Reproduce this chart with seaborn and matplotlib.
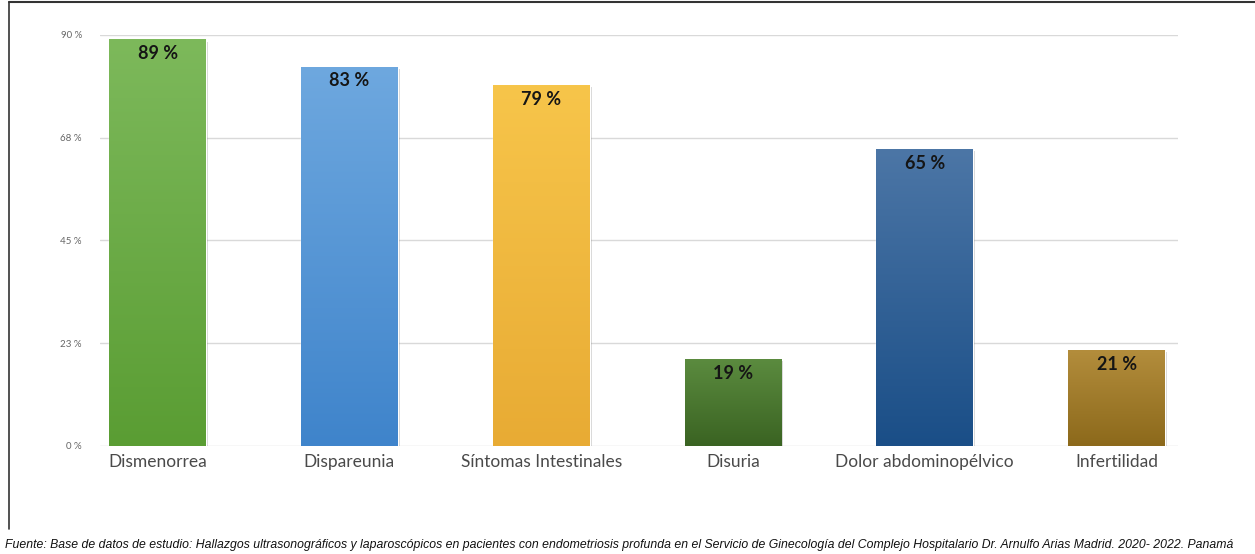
import matplotlib
matplotlib.use("Agg")
import matplotlib.pyplot as plt
import matplotlib.colors as mcolors
from matplotlib import patheffects
import numpy as np
import pandas as pd
import seaborn as sns

# data
categorias = ["Dismenorrea", "Dispareunia", "Síntomas Intestinales",
              "Disuria", "Dolor abdominopélvico", "Infertilidad"]
porcentajes = [89, 83, 79, 19, 65, 21]
etiquetas = ["89 %", "83 %", "79 %", "19 %", "65 %", "21 %"]
ticks_y = [0, 22.5, 45, 67.5, 90]
ticks_y_txt = ["0 %", "23 %", "45 %", "68 %", "90 %"]
fuente = ("Fuente: Base de datos de estudio: Hallazgos ultrasonográficos y laparoscópicos "
          "en pacientes con endometriosis profunda en el Servicio de Ginecología del Complejo "
          "Hospitalario Dr. Arnulfo Arias Madrid. 2020- 2022. Panamá")

# top / bottom colour of each bar gradient
color_arriba = ["#7db95b", "#6ea8df", "#f7c54a", "#5b8b3f", "#4c76a6", "#b38d3c"]
color_abajo = ["#5a9d33", "#3f84cb", "#e8ab34", "#3a6322", "#1a4e87", "#8c691b"]

df = pd.DataFrame({"categoria": categorias, "valor": porcentajes})

sns.set_style("white")
plt.rcParams["font.family"] = ["Lato", "DejaVu Sans"]

fig = plt.figure(figsize=(12.55, 5.54), dpi=100)
ax = fig.add_axes([0.0797, 0.195, 0.8589, 0.742])

sns.barplot(data=df, x="categoria", y="valor", hue="categoria",
            palette=color_abajo, width=0.505, legend=False, ax=ax, zorder=2)

ax.set_ylim(0, 90)
ax.set_xlim(-0.3, 5.32)

# vertical gradient inside each bar
grad = np.linspace(0, 1, 256).reshape(-1, 1)
for i, bar in enumerate(ax.patches):
    x0, y0 = bar.get_x(), bar.get_y()
    w, h = bar.get_width(), bar.get_height()
    cmap = mcolors.LinearSegmentedColormap.from_list(
        "g%d" % i, [color_abajo[i], color_arriba[i]])
    bar.set_path_effects([patheffects.SimplePatchShadow(offset=(1.5, -1.5),
                                                        shadow_rgbFace="#000000",
                                                        alpha=0.18),
                          patheffects.Normal()])
    im = ax.imshow(grad, cmap=cmap, aspect="auto", origin="lower",
                   extent=(x0, x0 + w, y0, y0 + h), zorder=3)
    im.set_clip_path(bar)
    ax.text(x0 + w / 2, h - 1.2, etiquetas[i], ha="center", va="top",
            fontsize=13, fontweight="bold", color="#151515", zorder=4)

ax.set_yticks(ticks_y)
ax.set_yticklabels(ticks_y_txt, fontsize=7, color="#666666")
ax.tick_params(axis="y", length=0, pad=13)
ax.tick_params(axis="x", length=0, pad=6, labelsize=12.5, labelcolor="#4a4a4a")
ax.grid(axis="y", color="#d9d9d9", linewidth=1, zorder=0)
ax.set_axisbelow(True)
ax.set_xlabel("")
ax.set_ylabel("")
sns.despine(ax=ax, left=True, bottom=True)

# outer frame (left and top edges)
fig.add_artist(plt.Line2D([0.0068, 0.0068], [0.045, 0.997], color="#333333",
                          linewidth=1.2, transform=fig.transFigure))
fig.add_artist(plt.Line2D([0.0068, 1.0], [0.997, 0.997], color="#333333",
                          linewidth=1.5, transform=fig.transFigure))

fig.text(0.004, 0.006, fuente, ha="left", va="bottom", fontsize=8.8,
         style="italic", family="Liberation Sans", color="#111111")

fig.savefig("out.png", dpi=100, facecolor="white")
